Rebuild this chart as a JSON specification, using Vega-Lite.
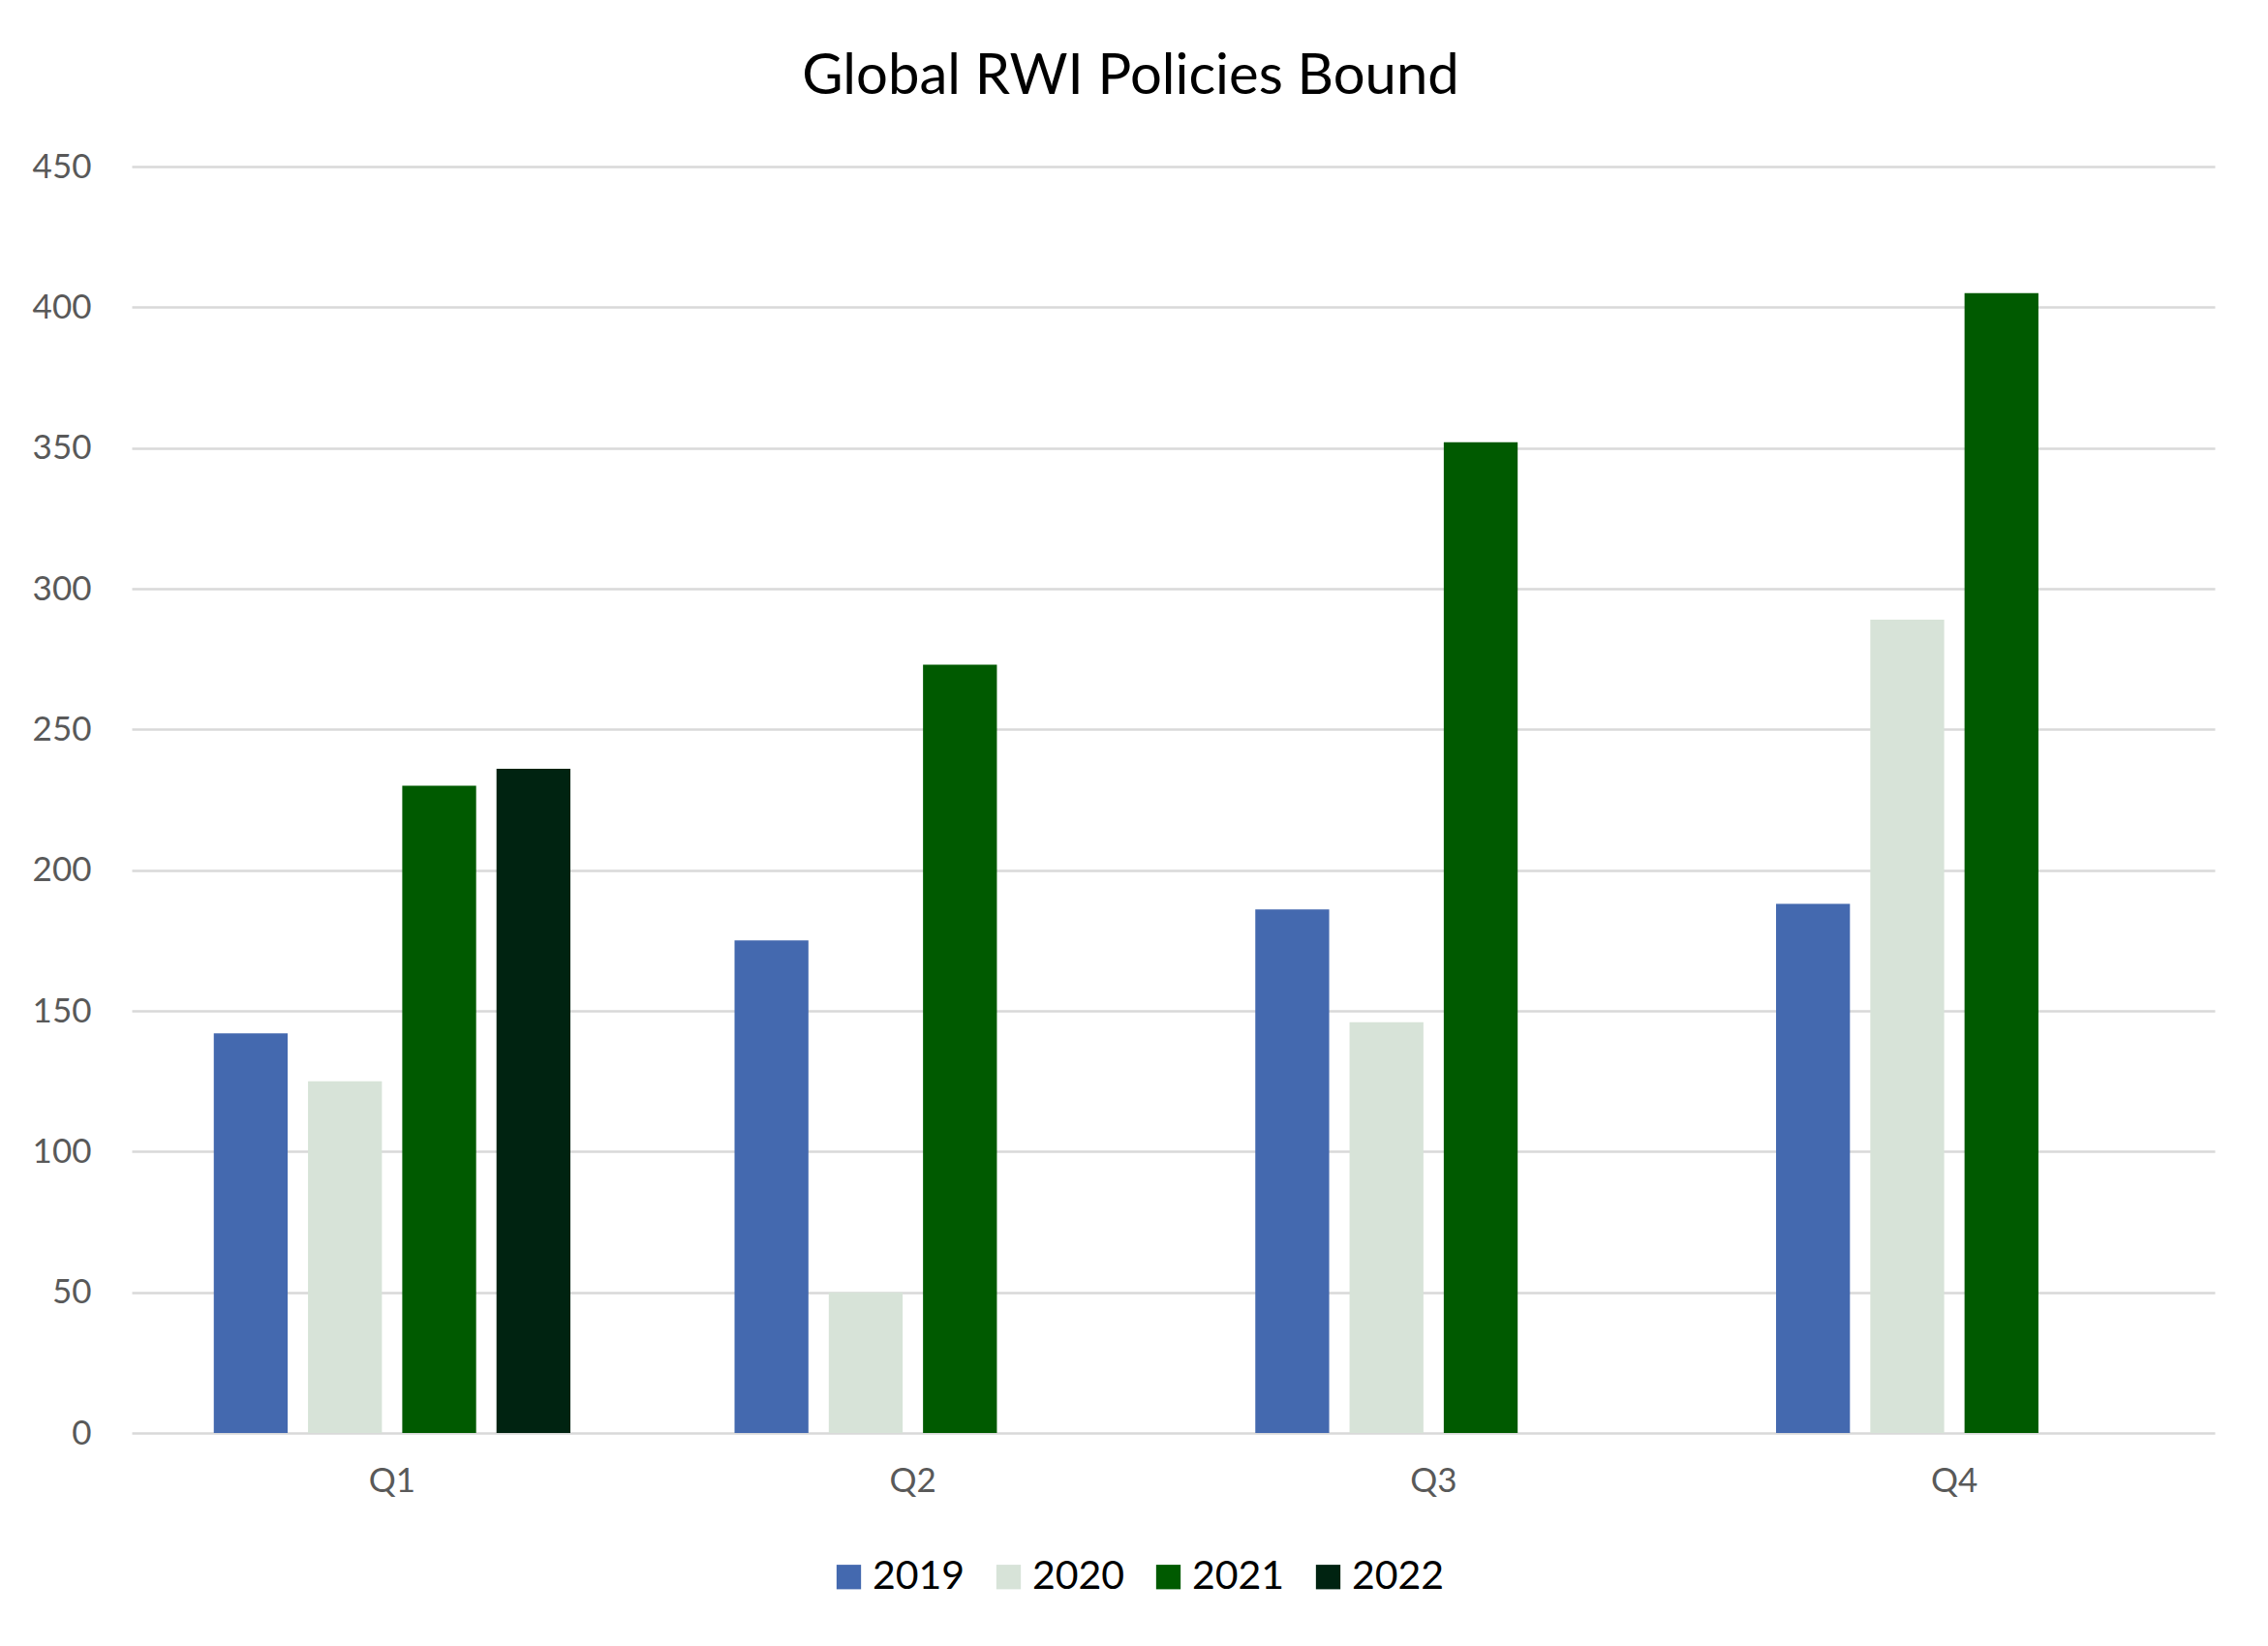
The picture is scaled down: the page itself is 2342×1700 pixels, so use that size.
{
  "$schema": "https://vega.github.io/schema/vega-lite/v6.json",
  "autosize": {"type": "none"},
  "width": 2151,
  "height": 1308,
  "padding": {"left": 136, "top": 172, "right": 55, "bottom": 220},
  "background": "white",
  "title": {
    "text": "Global RWI Policies Bound",
    "font": "Lato",
    "fontSize": 58,
    "fontWeight": "normal",
    "color": "#000000",
    "anchor": "middle",
    "frame": "group",
    "dx": -44,
    "offset": 46
  },
  "data": {
    "values": [
      {"quarter": "Q1", "year": "2019", "value": 142},
      {"quarter": "Q1", "year": "2020", "value": 125},
      {"quarter": "Q1", "year": "2021", "value": 230},
      {"quarter": "Q1", "year": "2022", "value": 236},
      {"quarter": "Q2", "year": "2019", "value": 175},
      {"quarter": "Q2", "year": "2020", "value": 50},
      {"quarter": "Q2", "year": "2021", "value": 273},
      {"quarter": "Q3", "year": "2019", "value": 186},
      {"quarter": "Q3", "year": "2020", "value": 146},
      {"quarter": "Q3", "year": "2021", "value": 352},
      {"quarter": "Q4", "year": "2019", "value": 188},
      {"quarter": "Q4", "year": "2020", "value": 289},
      {"quarter": "Q4", "year": "2021", "value": 405}
    ]
  },
  "mark": {"type": "bar"},
  "encoding": {
    "x": {
      "field": "quarter",
      "type": "nominal",
      "scale": {"paddingInner": 0, "paddingOuter": 0},
      "axis": {
        "title": null,
        "labelAngle": 0,
        "labelFont": "Lato",
        "labelFontSize": 35,
        "labelColor": "#595959",
        "domain": false,
        "ticks": false,
        "labelPadding": 32
      }
    },
    "xOffset": {
      "field": "year",
      "type": "nominal",
      "scale": {"domain": ["2019", "2020", "2021", "2022"], "paddingInner": 0.216, "paddingOuter": 0.871}
    },
    "y": {
      "field": "value",
      "type": "quantitative",
      "scale": {"domain": [0, 450], "nice": false},
      "axis": {
        "title": null,
        "values": [0, 50, 100, 150, 200, 250, 300, 350, 400, 450],
        "labelFont": "Lato",
        "labelFontSize": 35,
        "labelColor": "#595959",
        "domain": false,
        "ticks": false,
        "labelPadding": 42,
        "gridColor": "#D9D9D9",
        "gridWidth": 2.5
      }
    },
    "color": {
      "field": "year",
      "type": "nominal",
      "scale": {
        "domain": ["2019", "2020", "2021", "2022"],
        "range": ["#4469AF", "#D7E3D8", "#005A00", "#002311"]
      },
      "legend": {
        "orient": "none",
        "legendX": 720,
        "legendY": 1436,
        "direction": "horizontal",
        "title": null,
        "symbolType": "square",
        "symbolSize": 640,
        "symbolStrokeWidth": 0,
        "labelFont": "Lato",
        "labelFontSize": 41,
        "labelColor": "#000000",
        "labelOffset": 4,
        "columnPadding": 24
      }
    }
  },
  "config": {"view": {"stroke": null}}
}
